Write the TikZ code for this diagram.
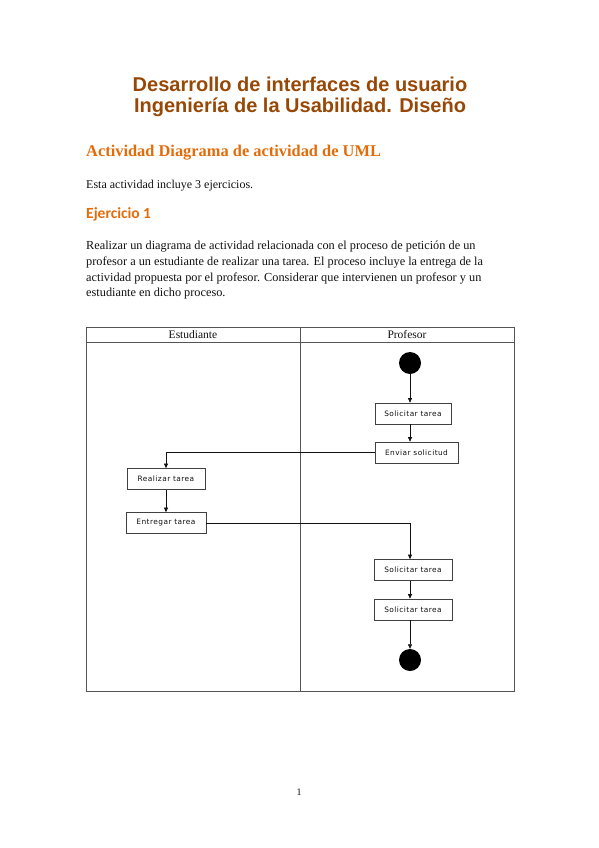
\documentclass[tikz,border=0pt]{standalone}
\usepackage{fontspec}
\setmainfont{Liberation Serif}
\newfontfamily\titlefont{Liberation Sans}
\newfontfamily\headfont{Carlito}
\newfontfamily\boxfont[LetterSpace=6]{DejaVu Sans}
\usetikzlibrary{arrows.meta}
\definecolor{ink}{HTML}{111111}
\definecolor{brown}{HTML}{974806}
\definecolor{orange}{HTML}{E36C0A}
\definecolor{frame}{HTML}{555555}

\begin{document}
\begin{tikzpicture}[x=1pt,y=-1pt,text=ink,>={Triangle[length=4.5pt,width=4pt]},
  act/.style={draw=ink!80,line width=.7pt,minimum height=21pt,inner sep=1pt,
    font=\boxfont\fontsize{7.4}{9}\selectfont},
  dot/.style={circle,fill=black,minimum size=22pt,inner sep=0pt},
  flow/.style={->,line width=.6pt,draw=ink}]
  \useasboundingbox (0,0) rectangle (599,848);

  % page heading
  \node[anchor=base,font=\titlefont\bfseries\fontsize{20}{22}\selectfont,text=brown]
    (title1) at (300,92) {Desarrollo de interfaces de usuario};
  \node[anchor=base,font=\titlefont\bfseries\fontsize{20}{22}\selectfont,text=brown]
    (title2) at (300,113) {Ingeniería de la Usabilidad. Diseño};
  \node[anchor=base west,inner sep=0pt,font=\bfseries\fontsize{16.4}{18}\selectfont,text=orange]
    (act) at (86,156) {Actividad Diagrama de actividad de UML};
  \node[anchor=base west,inner sep=0pt,font=\fontsize{12}{14}\selectfont]
    (intro) at (86,188) {Esta actividad incluye 3 ejercicios.};
  \node[anchor=base west,inner sep=0pt,font=\headfont\bfseries\fontsize{15.5}{17}\selectfont,text=orange]
    (ej1) at (86,218) {Ejercicio 1};
  \node[anchor=north west,inner sep=0pt,align=left,font=\fontsize{12.3}{15.7}\selectfont]
    (enun) at (86,241)
    {Realizar un diagrama de actividad relacionada con el proceso de petición de un\\
     profesor a un estudiante de realizar una tarea. El proceso incluye la entrega de la\\
     actividad propuesta por el profesor. Considerar que intervienen un profesor y un\\
     estudiante en dicho proceso.};

  % swimlanes
  \draw[frame,line width=.8pt] (86,327) rectangle (514,691);
  \draw[frame,line width=.6pt] (86,342) -- (514,342);
  \draw[frame,line width=.6pt] (300,327) -- (300,691);
  \node[font=\fontsize{11.5}{12}\selectfont] (est) at (193,335) {Estudiante};
  \node[font=\fontsize{11.5}{12}\selectfont] (prof) at (407,335) {Profesor};

  % activities
  \node[dot] (start) at (410,363) {};
  \node[act,minimum width=76pt] (sol1) at (413,413.5) {Solicitar tarea};
  \node[act,minimum width=83pt] (env) at (416.5,452.5) {Enviar solicitud};
  \node[act,minimum width=78pt] (real) at (166,479) {Realizar tarea};
  \node[act,minimum width=80pt] (ent) at (166,523) {Entregar tarea};
  \node[act,minimum width=78pt] (sol2) at (413,570) {Solicitar tarea};
  \node[act,minimum width=78pt] (sol3) at (413,609.5) {Solicitar tarea};
  \node[dot] (stop) at (410,660) {};

  \draw[flow] (start) -- (start |- sol1.north);
  \draw[flow] (sol1.south -| start) -- (env.north -| start);
  \draw[flow] (env.west) -| (real.north);
  \draw[flow] (real) -- (ent);
  \draw[flow] (ent.east) -| (sol2.north -| start);
  \draw[flow] (sol2.south -| start) -- (sol3.north -| start);
  \draw[flow] (sol3.south -| start) -- (stop);

  \node[font=\fontsize{10}{12}\selectfont] (pag) at (299,792) {1};
\end{tikzpicture}
\end{document}
